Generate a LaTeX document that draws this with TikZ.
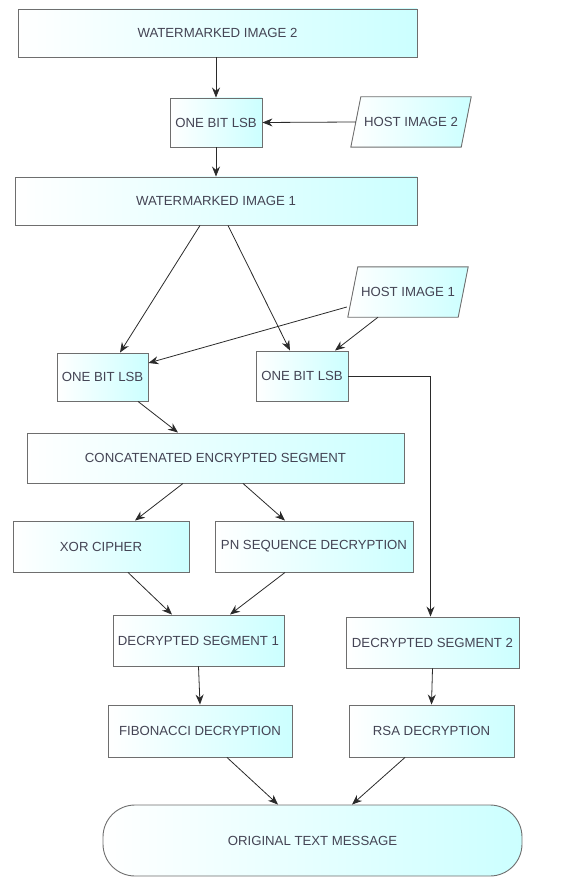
\documentclass[tikz,border=0pt]{standalone}
\usepackage{fontspec}
\setmainfont{Liberation Sans}
\usetikzlibrary{arrows.meta}
\definecolor{txt}{HTML}{444454}
\definecolor{edgec}{HTML}{6E6E6E}
\definecolor{lnc}{HTML}{2A2A2A}
\tikzset{
 box/.style={draw=edgec,line width=0.9pt,left color=white,right color=cyan!20,inner sep=0pt,text=txt,font=\fontsize{13.2}{15}\selectfont},
 iotext/.style={inner sep=0pt,text=txt,font=\fontsize{13.2}{15}\selectfont},
 ioshape/.style={draw=edgec,line width=0.9pt,left color=white,right color=cyan!20},
 arr/.style={draw=lnc,line width=0.8pt,-{Stealth[length=10pt,width=8pt]}},
}
\begin{document}
\begin{tikzpicture}[x=1pt,y=-1pt]
\useasboundingbox (0,0) rectangle (561,877);
\node[box,minimum width=399pt,minimum height=48pt] (wm2) at (217.5,33) {WATERMARKED IMAGE 2};
\node[box,minimum width=92pt,minimum height=49pt] (lsbt) at (216,122.5) {ONE BIT LSB};
\node[iotext,minimum width=110pt,minimum height=50pt] (host2) at (411,122) {};
\draw[ioshape] ([xshift=-5pt]host2.south west) -- ([xshift=5pt]host2.north west) -- ([xshift=5pt]host2.north east) -- ([xshift=-5pt]host2.south east) -- cycle;
\node[iotext] (host2t) at (host2.center) {HOST IMAGE 2};
\node[box,minimum width=402pt,minimum height=48pt] (wm1) at (216,201) {WATERMARKED IMAGE 1};
\node[iotext,minimum width=110pt,minimum height=50pt] (host1) at (408,292) {};
\draw[ioshape] ([xshift=-5pt]host1.south west) -- ([xshift=5pt]host1.north west) -- ([xshift=5pt]host1.north east) -- ([xshift=-5pt]host1.south east) -- cycle;
\node[iotext] (host1t) at (host1.center) {HOST IMAGE 1};
\node[box,minimum width=91pt,minimum height=48pt] (lsbl) at (102.5,377) {ONE BIT LSB};
\node[box,minimum width=92pt,minimum height=50pt] (lsbr) at (302,376) {ONE BIT LSB};
\node[box,minimum width=377pt,minimum height=50pt] (concat) at (215.5,458) {CONCATENATED ENCRYPTED SEGMENT};
\node[box,minimum width=176pt,minimum height=51pt] (xor) at (101,546.5) {XOR CIPHER};
\node[box,minimum width=198pt,minimum height=51pt] (pn) at (314,546.5) {PN SEQUENCE DECRYPTION};
\node[box,minimum width=171pt,minimum height=51pt] (ds1) at (198.5,640.5) {DECRYPTED SEGMENT 1};
\node[box,minimum width=173pt,minimum height=51pt] (ds2) at (432.5,642.5) {DECRYPTED SEGMENT 2};
\node[box,minimum width=184pt,minimum height=52pt] (fib) at (200,731) {FIBONACCI DECRYPTION};
\node[box,minimum width=165pt,minimum height=52pt] (rsa) at (431.5,731) {RSA DECRYPTION};
\node[box,rounded corners=32pt,minimum width=419pt,minimum height=71pt] (orig) at (312.5,840.5) {ORIGINAL TEXT MESSAGE};

\draw[arr] (lsbt.north |- wm2.south) -- (lsbt.north);
\draw[arr] (host2.west) -- (lsbt.east);
\draw[arr] (lsbt.south) -- (lsbt.south |- wm1.north);
\draw[arr] ([xshift=-16pt]wm1.south) -- ([xshift=17.5pt]lsbl.north);
\draw[arr] ([xshift=12pt]wm1.south) -- ([xshift=-12pt]lsbr.north);
\draw[arr] ([shift={(-6pt,-15pt)}]host1.west) -- ([yshift=14pt]lsbl.east);
\draw[arr] ([xshift=-30pt]host1.south) -- ([xshift=33pt]lsbr.north);
\draw[arr] (lsbr.east) -| ([xshift=-2pt]ds2.north);
\draw[arr] ([xshift=35.5pt]lsbl.south) -- ([xshift=-37.5pt]concat.north);
\draw[arr] ([xshift=-32.5pt]concat.south) -- ([xshift=34pt]xor.north);
\draw[arr] ([xshift=27.5pt]concat.south) -- ([xshift=-29pt]pn.north);
\draw[arr] ([xshift=27pt]xor.south) -- ([xshift=-26.5pt]ds1.north);
\draw[arr] ([xshift=-29pt]pn.south) -- ([xshift=31.5pt]ds1.north);
\draw[arr] (ds1.south) -- (fib.north);
\draw[arr] (ds2.south) -- (rsa.north);
\draw[arr] ([xshift=27pt]fib.south) -- ([xshift=-34.5pt]orig.north);
\draw[arr] ([xshift=-26.5pt]rsa.south) -- ([xshift=39.5pt]orig.north);
\end{tikzpicture}
\end{document}
